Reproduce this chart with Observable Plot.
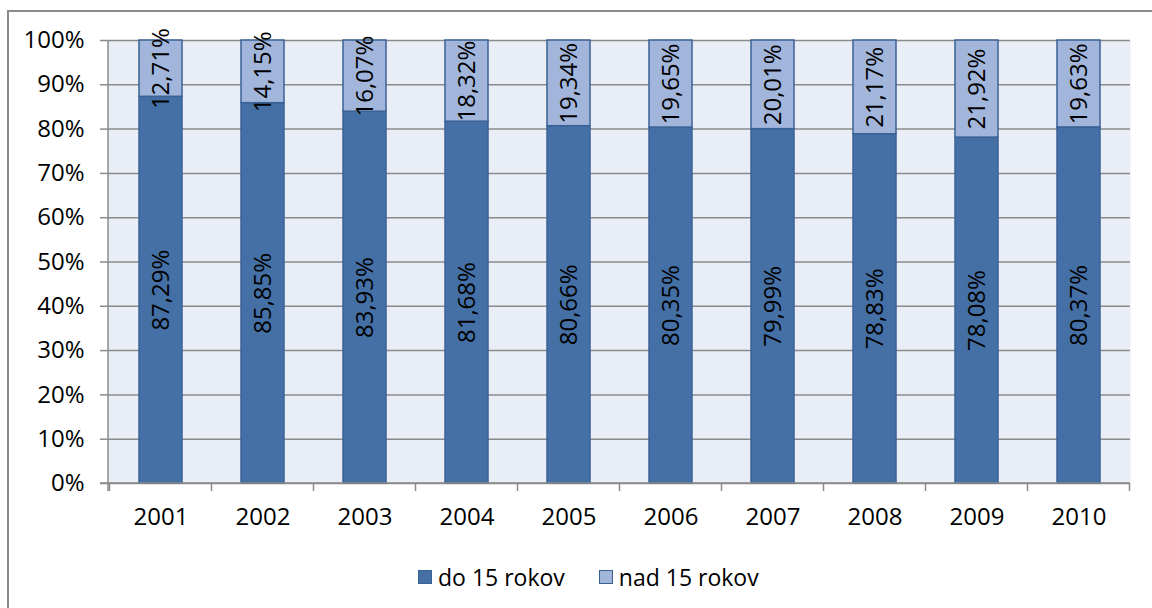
<!DOCTYPE html>
<html><head><meta charset="utf-8">
<script src="https://cdn.jsdelivr.net/npm/d3@7"></script>
<script src="https://cdn.jsdelivr.net/npm/@observablehq/plot@0.6"></script>
<style>
body{margin:0;background:#fff;font-family:"Open Sans",sans-serif;}
#wrap{position:relative;width:1152px;height:608px;overflow:hidden;background:#fff;}
#border{position:absolute;left:7px;top:10px;width:1200px;height:700px;border-left:2px solid #8a8a8a;border-top:2px solid #8a8a8a;box-sizing:border-box;}
#chart{position:absolute;left:0;top:0;}
#legend{position:absolute;left:418px;top:560px;display:flex;align-items:center;font-size:23px;color:#000;line-height:34px;}
.item{display:flex;align-items:center;margin-right:34px;}
.sw{width:12px;height:12px;border:1.5px solid #3b6295;margin-right:6px;}
</style>
</head><body>
<div id="wrap"><div id="border"></div><div id="chart"></div><div id="legend"></div></div>
<script>
const years = ["2001","2002","2003","2004","2005","2006","2007","2008","2009","2010"];
const series = ["do 15 rokov","nad 15 rokov"];
const do15 = [87.29,85.85,83.93,81.68,80.66,80.35,79.99,78.83,78.08,80.37];
const nad15 = [12.71,14.15,16.07,18.32,19.34,19.65,20.01,21.17,21.92,19.63];
const yTicks = [0,10,20,30,40,50,60,70,80,90,100];
const colors = ["#4470a6","#a2b6dc"];
const strokeColor = "#3b6295";
const gridColor = "#8a8a8a";

const rows = [];
years.forEach((y,i)=>{
  rows.push({year:y, series:series[0], value:do15[i]});
  rows.push({year:y, series:series[1], value:nad15[i]});
});
const fmt = v => v.toFixed(2).replace(".", ",") + "%";

function axisLines(index, scales, values, dim) {
  const {width, height, marginLeft, marginRight, marginBottom, marginTop} = dim;
  const x0 = marginLeft, x1 = width - marginRight, yb = height - marginBottom;
  const g = d3.create("svg:g").attr("stroke", gridColor).attr("stroke-width", 1.5).attr("fill", "none");
  g.append("line").attr("x1", x0).attr("x2", x0).attr("y1", marginTop).attr("y2", yb + 8);
  g.append("line").attr("x1", x0 - 8).attr("x2", x1).attr("y1", yb).attr("y2", yb);
  const step = scales.x.step ? scales.x.step() : (x1 - x0) / years.length;
  const bw = scales.x.bandwidth();
  years.forEach((yr, i) => {
    const bx = scales.x(yr) - (step - bw) / 2;
    g.append("line").attr("x1", bx).attr("x2", bx).attr("y1", yb).attr("y2", yb + 8);
    if (i === years.length - 1) {
      const ex = bx + step;
      g.append("line").attr("x1", ex).attr("x2", ex).attr("y1", yb).attr("y2", yb + 8);
    }
  });
  return g.node();
}

const chart = Plot.plot({
  width: 1152,
  height: 540,
  marginLeft: 108,
  marginRight: 22,
  marginTop: 40,
  marginBottom: 57,
  style: {fontFamily: "'Open Sans', sans-serif", fontSize: "24px", color: "#000", background: "transparent", overflow: "visible"},
  x: {domain: years, paddingInner: 0.58, paddingOuter: 0.29, label: null},
  y: {domain: [0, 100], label: null},
  color: {domain: series, range: colors},
  marks: [
    Plot.frame({fill: "#e9edf5", stroke: null}),
    Plot.gridY(yTicks, {stroke: gridColor, strokeOpacity: 1, strokeWidth: 1.5}),
    Plot.barY(rows, {x: "year", y: "value", z: "series", fill: "series", stroke: strokeColor, strokeWidth: 1.5}),
    Plot.text(rows, Plot.stackY({x: "year", y: "value", z: "series", text: d => fmt(d.value), rotate: -90, fontSize: 24, fill: "#000"})),
    Plot.axisY({ticks: yTicks, tickSize: 8, tickPadding: 16, tickFormat: d => d + "%", stroke: gridColor, strokeWidth: 1.5, fontSize: 24}),
    Plot.axisX({tickSize: 0, tickPadding: 24, fontSize: 24}),
    axisLines
  ]
});
document.getElementById("chart").appendChild(chart);

const legend = d3.select("#legend");
series.forEach((s, i) => {
  const it = legend.append("div").attr("class", "item");
  it.append("div").attr("class", "sw").style("background", colors[i]);
  it.append("span").text(s);
});
</script>
</body></html>
